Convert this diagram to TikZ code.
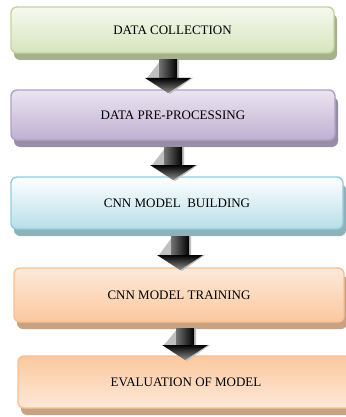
\documentclass[tikz,border=0pt]{standalone}
\usepackage{fontspec}
\setmainfont{Liberation Serif}
\usetikzlibrary{shadows}
\definecolor{gB}{HTML}{C3D69B}\definecolor{gT}{HTML}{F6F9EF}\definecolor{gL}{HTML}{D7E4BD}\definecolor{gS}{HTML}{A5B08C}
\definecolor{pB}{HTML}{B2A1C7}\definecolor{pT}{HTML}{EAE5F0}\definecolor{pL}{HTML}{BFB0D3}\definecolor{pS}{HTML}{968EA2}
\definecolor{cB}{HTML}{92CDDC}\definecolor{cT}{HTML}{FFFFFF}\definecolor{cL}{HTML}{B7DEE8}\definecolor{cS}{HTML}{8FB1B9}
\definecolor{oB}{HTML}{FAC090}\definecolor{oT}{HTML}{FDE9D9}\definecolor{oL}{HTML}{FBC89E}\definecolor{oS}{HTML}{C9A283}
\tikzset{
  stagebox/.style={rounded corners=6pt, line width=1.4pt, inner sep=0pt,
    font=\fontsize{13}{15}\selectfont, text=black},
  boxshadow/.style={general shadow={fill=#1, shadow xshift=3pt, shadow yshift=-7pt}},
}
\newcommand\blockarr[4]{%
  \fill[black!25] ({#1-9+2},#2) -- ({#1+9+2},#2) -- ({#1+9+2},#3) -- ({#1+23+2},#3) -- ({#1+2},{#4+1}) -- ({#1-23+2},#3) -- cycle;
  \shade[left color=black!55, right color=black] ({#1-9},#2) rectangle ({#1+9},{#3+0.5});
  \shade[top color=black, bottom color=black!45] ({#1-23},#3) -- ({#1+23},#3) -- (#1,#4) -- cycle;
}
\begin{document}
\begin{tikzpicture}[x=1pt,y=-1pt]
\useasboundingbox (0,0) rectangle (345,417);
\fill[white] (0,0) rectangle (345,417);
\node[stagebox, draw=gB, top color=gT, bottom color=gL, boxshadow=gS,
  minimum width=323pt, minimum height=46pt] (b1) at (172.5,30) {DATA COLLECTION};
\node[stagebox, draw=pB, top color=pT, bottom color=pL, boxshadow=pS,
  minimum width=324pt, minimum height=50pt] (b2) at (173,115) {DATA PRE-PROCESSING};
\node[stagebox, draw=cB, top color=cT, bottom color=cL, boxshadow=cS,
  minimum width=332pt, minimum height=52pt] (b3) at (177,203) {CNN MODEL\ \ BUILDING};
\node[stagebox, draw=oB, top color=oT, bottom color=oL, boxshadow=oS,
  minimum width=330pt, minimum height=54pt] (b4) at (179,295) {CNN MODEL TRAINING};
\node[stagebox, draw=oB, top color=oL, bottom color=oT, boxshadow=oS,
  minimum width=336pt, minimum height=52pt] (b5) at (186,382) {EVALUATION OF MODEL};
\blockarr{168}{60}{78}{93}
\blockarr{173}{147}{165}{180}
\blockarr{180}{236}{255}{270}
\blockarr{185}{328}{345}{360}
\end{tikzpicture}
\end{document}
